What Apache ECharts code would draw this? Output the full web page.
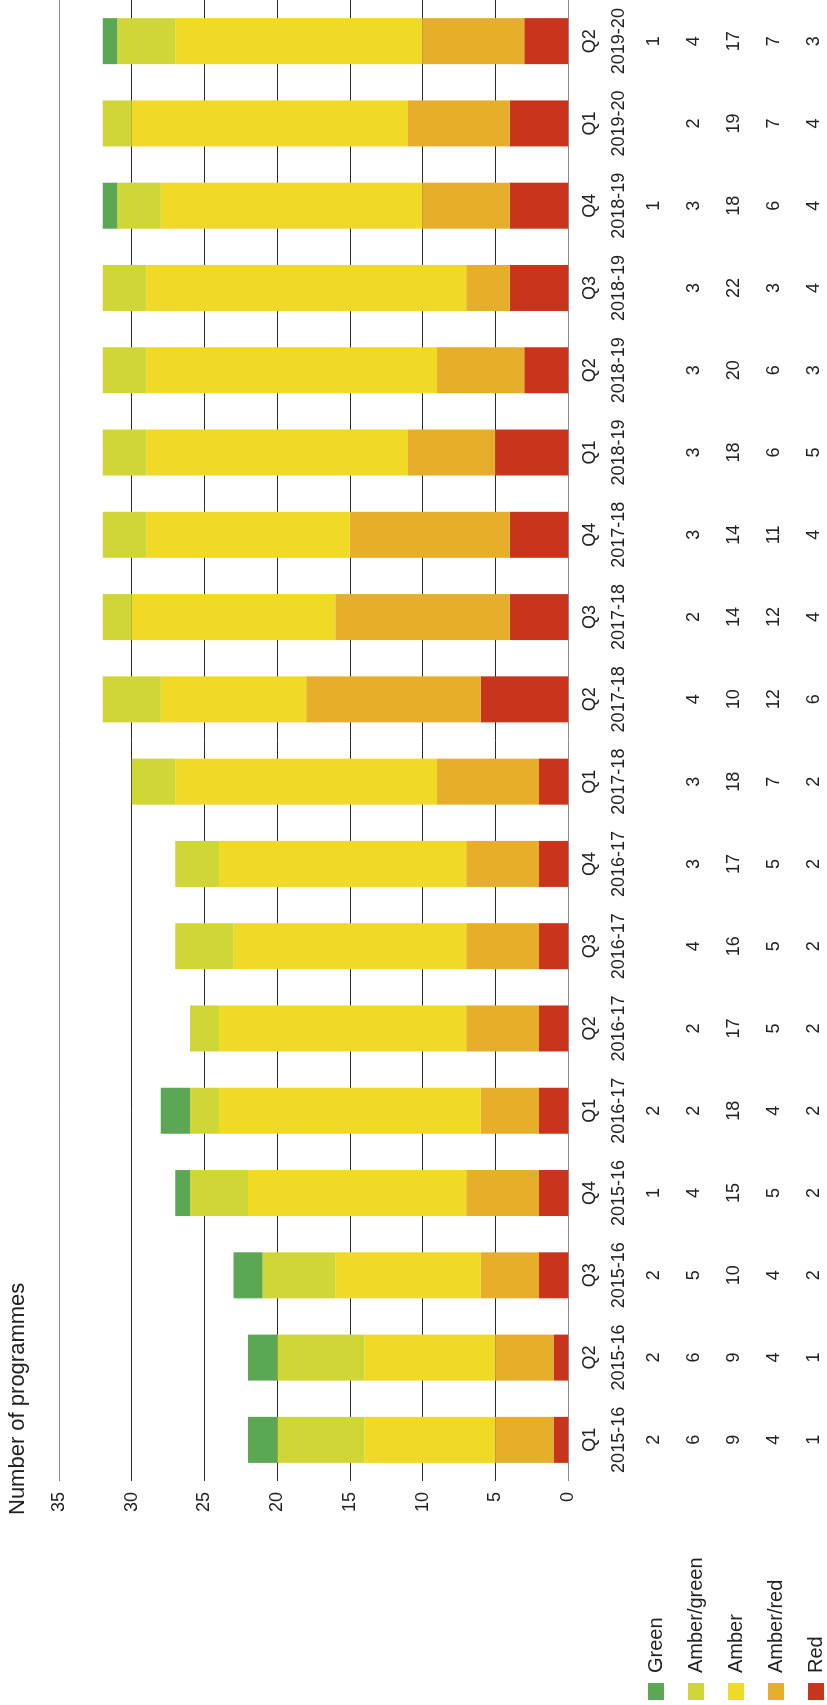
<!DOCTYPE html>
<html>
<head>
<meta charset="utf-8">
<script src="https://cdn.jsdelivr.net/npm/echarts@6/dist/echarts.min.js"></script>
<style>
html, body { margin: 0; padding: 0; background: #fff; overflow: hidden; width: 827px; height: 1705px; }
#chart { position: absolute; left: 0; top: 1705px; width: 1705px; height: 900px; transform-origin: 0 0; transform: rotate(-90deg); }
</style>
</head>
<body>
<div id="chart"></div>
<script>
var quarters = ['Q1','Q2','Q3','Q4','Q1','Q2','Q3','Q4','Q1','Q2','Q3','Q4','Q1','Q2','Q3','Q4','Q1','Q2'];
var years = ['2015-16','2015-16','2015-16','2015-16','2016-17','2016-17','2016-17','2016-17','2017-18','2017-18','2017-18','2017-18','2018-19','2018-19','2018-19','2018-19','2019-20','2019-20'];
var green      = [2, 2, 2, 1, 2, null, null, null, null, null, null, null, null, null, null, 1, null, 1];
var amberGreen = [6, 6, 5, 4, 2, 2, 4, 3, 3, 4, 2, 3, 3, 3, 3, 3, 2, 4];
var amber      = [9, 9, 10, 15, 18, 17, 16, 17, 18, 10, 14, 14, 18, 20, 22, 18, 19, 17];
var amberRed   = [4, 4, 4, 5, 4, 5, 5, 5, 7, 12, 12, 11, 6, 6, 3, 6, 7, 7];
var red        = [1, 1, 2, 2, 2, 2, 2, 2, 2, 6, 4, 4, 5, 3, 4, 4, 4, 3];
var valueTicks = [0, 5, 10, 15, 20, 25, 30, 35];

var categories = quarters.map(function (q, i) { return q + ' ' + years[i]; });
var FONT = '"Liberation Sans", Arial, Helvetica, sans-serif';
var TXT = '#222';

function cell(v) { return (v === null || v === undefined) ? '\u00a0' : String(v); }

var chart = echarts.init(document.getElementById('chart'), null, { renderer: 'canvas' });
var seriesDefs = [
  { name: 'Red', data: red, color: '#C9341C' },
  { name: 'Amber/red', data: amberRed, color: '#E6AE2A' },
  { name: 'Amber', data: amber, color: '#F1DA25' },
  { name: 'Amber/green', data: amberGreen, color: '#CFD736' },
  { name: 'Green', data: green, color: '#5BA754' }
];

var splitColors = valueTicks.map(function (t, i) {
  return (i === 0 || i === valueTicks.length - 1) ? '#8a8a8a' : '#2a2a2a';
});

chart.setOption({
  animation: false,
  backgroundColor: '#fff',
  textStyle: { fontFamily: FONT },
  title: {
    text: 'Number of programmes',
    left: 190, top: 7, padding: 0,
    textStyle: { fontFamily: FONT, fontSize: 22, fontWeight: 'normal', color: TXT }
  },
  legend: {
    orient: 'vertical',
    left: 5, top: 646, padding: 0,
    icon: 'rect',
    itemWidth: 17, itemHeight: 16, itemGap: 20,
    data: ['Green', 'Amber/green', 'Amber', 'Amber/red', 'Red'],
    textStyle: { fontFamily: FONT, fontSize: 20, color: TXT, lineHeight: 20, padding: [0, 0, 0, 5] }
  },
  grid: { left: 224, right: 0, top: 59, height: 509, containLabel: false },
  xAxis: {
    type: 'category',
    data: categories,
    axisLine: { show: false },
    axisTick: { show: false },
    axisLabel: {
      interval: 0,
      margin: 8,
      align: 'center',
      verticalAlign: 'top',
      formatter: function (v, i) {
        return '{q|' + quarters[i] + '}\n{y|' + years[i] + '}\n' +
          '{v|' + cell(green[i]) + '}\n' +
          '{v|' + cell(amberGreen[i]) + '}\n' +
          '{v|' + cell(amber[i]) + '}\n' +
          '{v|' + cell(amberRed[i]) + '}\n' +
          '{v|' + cell(red[i]) + '}';
      },
      rich: {
        q: { fontFamily: FONT, fontSize: 18, color: TXT, lineHeight: 28 },
        y: { fontFamily: FONT, fontSize: 18, color: TXT, lineHeight: 30 },
        v: { fontFamily: FONT, fontSize: 18, color: TXT, lineHeight: 40 }
      }
    }
  },
  yAxis: {
    type: 'value',
    min: valueTicks[0], max: valueTicks[valueTicks.length - 1], interval: 5,
    axisLine: { show: false },
    axisTick: { show: false },
    axisLabel: { margin: 11, fontFamily: FONT, fontSize: 18, color: TXT },
    splitLine: { show: true, lineStyle: { color: splitColors, width: 1 } }
  },
  series: seriesDefs.map(function (s) {
    return {
      name: s.name, type: 'bar', stack: 'total', barWidth: 46,
      data: s.data,
      itemStyle: { color: s.color },
      emphasis: { disabled: true }
    };
  })
});
</script>
</body>
</html>
